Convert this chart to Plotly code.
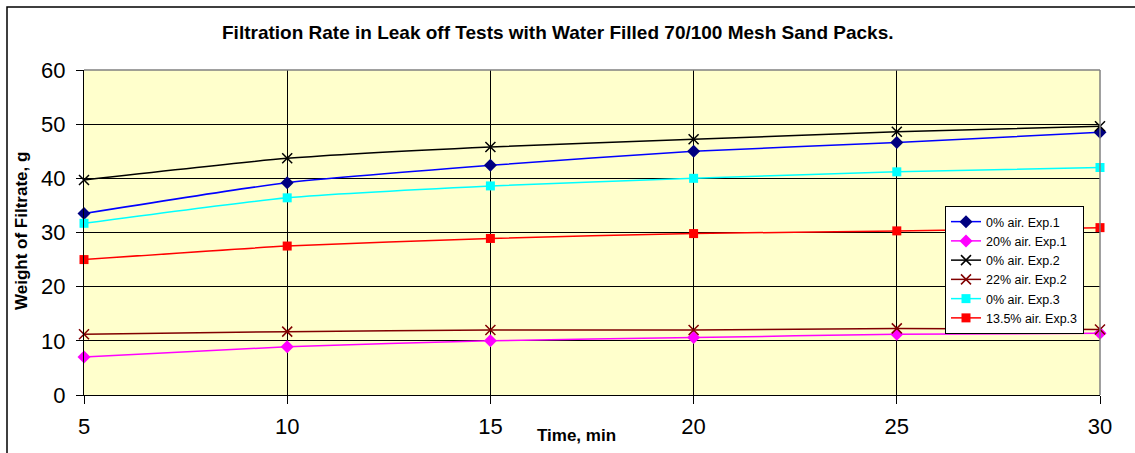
import plotly.graph_objects as go

# Elapsed time of each reading, minutes
time_min = [5, 10, 15, 20, 25, 30]

# Cumulative filtrate weight (g) for each leak-off run
exp1_0_air = [33.5, 39.2, 42.4, 45.0, 46.6, 48.5]
exp1_20_air = [7.0, 8.9, 10.0, 10.6, 11.2, 11.4]
exp2_0_air = [39.7, 43.7, 45.8, 47.2, 48.6, 49.6]
exp2_22_air = [11.2, 11.7, 12.0, 12.0, 12.3, 12.1]
exp3_0_air = [31.7, 36.4, 38.6, 40.0, 41.2, 42.0]
exp3_135_air = [25.0, 27.5, 28.9, 29.8, 30.3, 30.9]

series_names = [
    "0% air. Exp.1",
    "20% air. Exp.1",
    "0% air. Exp.2",
    "22% air. Exp.2",
    "0% air. Exp.3",
    "13.5% air. Exp.3",
]

FONT = "Arial, Liberation Sans, sans-serif"

# Plot area in pixels (figure is 1135 x 453)
W, H = 1135, 453
L, R, T, B = 84, 1100, 70, 395


def px_x(px):
    return (px - L) / (R - L)


def px_y(py):
    return (B - py) / (B - T)


styles = [
    # (data, line colour, marker colour, symbol, size, marker line)
    (exp1_0_air, "#0000FF", "#000080", "diamond", 10, None),
    (exp1_20_air, "#FF00FF", "#FF00FF", "diamond", 10, None),
    (exp2_0_air, "#000000", "#000000", "x-thin", 10, "#000000"),
    (exp2_22_air, "#800000", "#800000", "x-thin", 10, "#800000"),
    (exp3_0_air, "#00FFFF", "#00FFFF", "square", 9, None),
    (exp3_135_air, "#FF0000", "#FF0000", "square", 9, None),
]

fig = go.Figure()
for name, (vals, lcol, mcol, sym, size, mline) in zip(series_names, styles):
    marker = dict(symbol=sym, size=size, color=mcol)
    if mline:
        marker["line"] = dict(color=mline, width=1.5)
    else:
        marker["line"] = dict(width=0)
    fig.add_trace(go.Scatter(
        x=time_min, y=vals, name=name, mode="lines+markers",
        line=dict(color=lcol, width=1.5, shape="spline", smoothing=0.6),
        marker=marker, cliponaxis=False,
    ))

fig.update_layout(
    width=W, height=H,
    margin=dict(l=L, r=W - R, t=T, b=H - B),
    paper_bgcolor="white",
    plot_bgcolor="#FFFFCC",
    font=dict(family=FONT, color="black"),
    showlegend=True,
    legend=dict(
        x=px_x(945), y=px_y(206), xanchor="left", yanchor="top",
        bgcolor="white", bordercolor="black", borderwidth=1,
        font=dict(family=FONT, size=12.5, color="black"),
        tracegroupgap=0,
    ),
    xaxis=dict(
        range=[5, 30], tickvals=time_min, ticktext=[str(t) for t in time_min],
        showgrid=True, gridcolor="#000000", gridwidth=1,
        showline=True, linecolor="black", linewidth=1,
        ticks="outside", ticklen=8, tickcolor="black",
        ticklabelstandoff=4,
        tickfont=dict(family=FONT, size=22), zeroline=False,
    ),
    yaxis=dict(
        range=[0, 60], dtick=10,
        showgrid=True, gridcolor="#000000", gridwidth=1,
        showline=True, linecolor="black", linewidth=1,
        ticks="outside", ticklen=7, tickcolor="black",
        ticklabelstandoff=6,
        tickfont=dict(family=FONT, size=22), zeroline=False,
    ),
    annotations=[
        dict(text="<b>Filtration Rate in Leak off Tests with Water Filled 70/100 Mesh Sand Packs.</b>",
             x=px_x(558), y=px_y(33), xref="paper", yref="paper",
             xanchor="center", yanchor="middle",
             showarrow=False, font=dict(family=FONT, size=19)),
        dict(text="<b>Weight of Filtrate, g</b>",
             x=px_x(21), y=px_y(231), xref="paper", yref="paper", textangle=-90,
             xanchor="center", yanchor="middle",
             showarrow=False, font=dict(family=FONT, size=17)),
        dict(text="<b>Time, min</b>",
             x=px_x(576), y=px_y(436), xref="paper", yref="paper",
             xanchor="center", yanchor="middle",
             showarrow=False, font=dict(family=FONT, size=17)),
    ],
    shapes=[
        # grey frame on the top and right of the plot area
        dict(type="line", xref="paper", yref="paper", x0=0, x1=1, y0=1, y1=1,
             line=dict(color="#808080", width=1.5)),
        dict(type="line", xref="paper", yref="paper", x0=1, x1=1, y0=0, y1=1,
             line=dict(color="#808080", width=1.5)),
        # outer chart border
        dict(type="rect", xref="paper", yref="paper",
             x0=px_x(7), x1=px_x(1160), y0=px_y(480), y1=px_y(7),
             line=dict(color="black", width=1.5), fillcolor="rgba(0,0,0,0)"),
    ],
)

fig.write_html("out.html")
